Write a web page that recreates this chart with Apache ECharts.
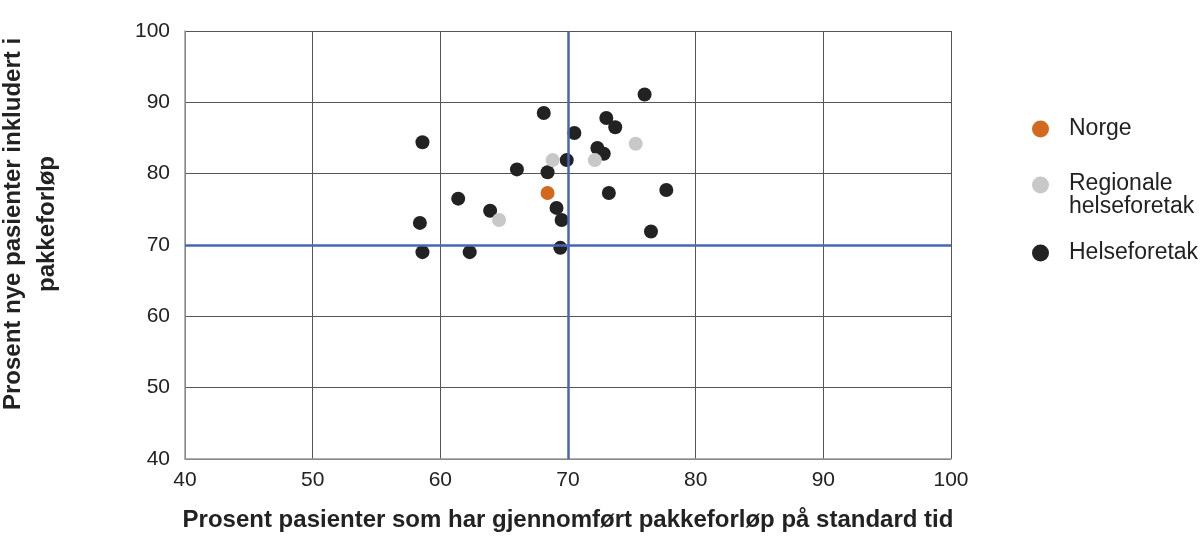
<!DOCTYPE html>
<html><head><meta charset="utf-8">
<script src="https://cdn.jsdelivr.net/npm/echarts@6/dist/echarts.min.js"></script>
<style>html,body{margin:0;padding:0;background:#fff}#c{width:1200px;height:547px}</style>
</head><body><div id="c"></div>
<script>
const xTicks = [40, 50, 60, 70, 80, 90, 100];
const yTicks = [40, 50, 60, 70, 80, 90, 100];
const norge = [[68.4, 77.3]];
const regionale = [[75.3, 84.2], [68.8, 81.9], [72.1, 81.9], [64.6, 73.5]];
const helseforetak = [
  [76.0, 91.1], [68.1, 88.5], [73.0, 87.8], [73.7, 86.5], [70.5, 85.7],
  [58.6, 84.4], [72.3, 83.6], [72.8, 82.8], [69.9, 81.9], [66.0, 80.6],
  [68.4, 80.2], [77.7, 77.7], [73.2, 77.3], [61.4, 76.5], [63.9, 74.8],
  [69.1, 75.2], [69.5, 73.5], [58.4, 73.1], [76.5, 71.9], [69.4, 69.6],
  [58.6, 69.0], [62.3, 69.0]
];
const seriesNames = ['Norge', 'Regionale helseforetak', 'Helseforetak'];
const refX = 70, refY = 70;
const font = 'Liberation Sans, Arial, sans-serif';
const legendBase = {
  orient: 'vertical', left: 1032, padding: 0,
  icon: 'circle', itemWidth: 17, itemHeight: 17
};
const legendText = { fontSize: 23, color: '#222', lineHeight: 22, fontFamily: font, padding: [0, 0, 0, 15] };
const chart = echarts.init(document.getElementById('c'));
chart.setOption({
  animation: false,
  textStyle: { fontFamily: font },
  grid: { left: 185, right: 249, top: 31, bottom: 88, containLabel: false, outerBoundsMode: 'none' },
  xAxis: {
    type: 'value', min: xTicks[0], max: xTicks[xTicks.length - 1], interval: 10,
    axisLine: { show: true, lineStyle: { color: '#999', width: 1.5 } },
    axisTick: { show: false },
    axisLabel: { color: '#222', fontSize: 21, margin: 11, fontFamily: font },
    splitLine: { show: true, lineStyle: { color: '#555', width: 1 } },
    name: 'Prosent pasienter som har gjennomført pakkeforløp på standard tid',
    nameLocation: 'middle', nameGap: 49,
    nameTextStyle: { fontSize: 24, fontWeight: 'bold', color: '#222', fontFamily: font }
  },
  yAxis: {
    type: 'value', min: yTicks[0], max: yTicks[yTicks.length - 1], interval: 10,
    axisLine: { show: true, lineStyle: { color: '#999', width: 1.5 } },
    axisTick: { show: false },
    axisLabel: { color: '#222', fontSize: 21, margin: 15, fontFamily: font },
    splitLine: { show: true, lineStyle: { color: '#555', width: 1 } },
    name: 'Prosent nye pasienter inkludert i\npakkeforløp',
    nameLocation: 'middle', nameGap: 121, nameRotate: 90,
    nameTextStyle: { fontSize: 24, fontWeight: 'bold', color: '#222', lineHeight: 34, fontFamily: font, padding: [0, 0, 0, 42] }
  },
  legend: [
    Object.assign({}, legendBase, { top: 117.5, data: [seriesNames[0]], textStyle: legendText }),
    Object.assign({}, legendBase, {
      top: 161.7, data: [seriesNames[1]],
      formatter: function () { return '{a|Regionale}\n{b|helseforetak}'; },
      textStyle: Object.assign({}, legendText, {
        rich: {
          a: { fontSize: 23, color: '#222', fontFamily: font, lineHeight: 43.6 },
          b: { fontSize: 23, color: '#222', fontFamily: font, lineHeight: 3 }
        }
      })
    }),
    Object.assign({}, legendBase, { top: 241.5, data: [seriesNames[2]], textStyle: legendText })
  ],
  series: [
    {
      name: seriesNames[2], type: 'scatter', data: helseforetak, symbolSize: 14,
      itemStyle: { color: '#222222', opacity: 1 }, z: 3,
      markLine: {
        silent: true, symbol: 'none', label: { show: false },
        lineStyle: { color: '#4667b6', width: 2.5, type: 'solid' },
        data: [{ xAxis: refX }, { yAxis: refY }]
      }
    },
    { name: seriesNames[1], type: 'scatter', data: regionale, symbolSize: 14, itemStyle: { color: '#c8c8c8', opacity: 1 }, z: 4 },
    { name: seriesNames[0], type: 'scatter', data: norge, symbolSize: 14, itemStyle: { color: '#d2691e', opacity: 1 }, z: 5 }
  ]
});
</script></body></html>
